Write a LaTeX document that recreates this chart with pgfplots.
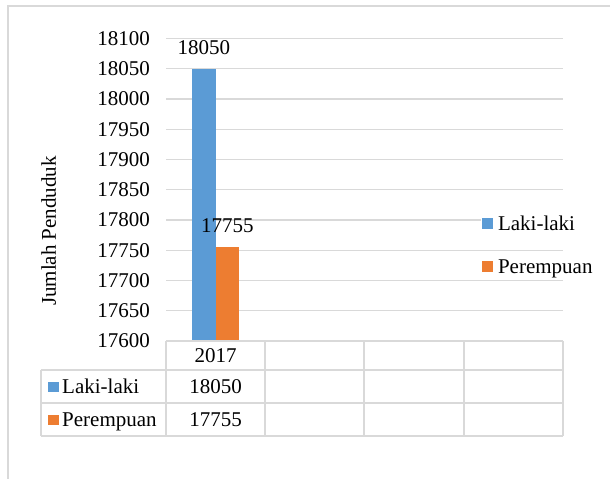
\documentclass[border=0pt]{standalone}
\usepackage{pgfplots}
\pgfplotsset{compat=1.18}
\usepackage{fontspec}
\setmainfont{Liberation Serif}
\definecolor{xblue}{HTML}{5B9BD5}
\definecolor{xorange}{HTML}{ED7D31}
\definecolor{gridgray}{HTML}{D9D9D9}
\newcommand{\cf}{\fontsize{21bp}{25bp}\selectfont}
\begin{document}
\begin{tikzpicture}
\useasboundingbox (0,0) rectangle (610bp,-479bp);
\begin{axis}[
  at={(166bp,-341bp)}, anchor=south west,
  width=397bp, height=302.5bp, scale only axis,
  xmin=0, xmax=4, ymin=17600, ymax=18100,
  ytick={17600,17650,...,18100},
  scaled y ticks=false,
  yticklabel={\pgfmathprintnumber[fixed,precision=0,1000 sep={}]{\tick}},
  xtick=\empty,
  ymajorgrids, grid style={draw=gridgray, line width=1.3bp},
  axis line style={draw=none},
  major tick length=0pt,
  /pgf/number format/assume math mode=true,
  /pgf/number format/1000 sep={},
  yticklabel style={font=\cf, anchor=east, xshift=-12.5bp},
  ybar=0pt, bar width=23.5bp,
  nodes near coords,
  every node near coord/.append style={font=\cf, yshift=11bp, /pgf/number format/1000 sep={}},
  legend style={at={(0.7935,0.317)}, anchor=west, draw=none, fill=none,
    inner sep=0pt, outer sep=0pt, row sep=27bp, font=\cf,
    nodes={inner sep=0pt, text height=13bp, text depth=0pt, fill=white},
    /tikz/every even column/.append style={column sep=3.5bp}},
  legend cell align=left,
  legend image code/.code={\fill[white] (-1bp,-8bp) rectangle (16bp,8bp); \fill[#1,draw=none] (0bp,-5.5bp) rectangle (11bp,5.5bp);},
]
\addplot[fill=xblue, draw=none] coordinates {(0.5,18050)};
\addplot[fill=xorange, draw=none] coordinates {(0.5,17755)};
\legend{Laki-laki, Perempuan}
\end{axis}
% outer frame
\draw[gridgray, line width=2bp] (8bp,-479bp) -- (8bp,-6bp) -- (610bp,-6bp);
% y label
\node[rotate=90, font=\cf] at (48.6bp,-231bp) {Jumlah Penduduk};
% data table
\begin{scope}[gridgray, line width=1.5bp]
\draw (166bp,-341bp) -- (563bp,-341bp);
\draw (41bp,-370bp) -- (563bp,-370bp);
\draw (41bp,-403bp) -- (563bp,-403bp);
\draw (41bp,-436bp) -- (563bp,-436bp);
\foreach \x in {166,265,364,464,563} {\draw (\x bp,-341bp) -- (\x bp,-436bp);}
\draw (41bp,-370bp) -- (41bp,-436bp);
\end{scope}
\node[font=\cf] at (215.5bp,-356bp) {2017};
\node[font=\cf] at (215.5bp,-387bp) {18050};
\node[font=\cf] at (215.5bp,-420bp) {17755};
\fill[xblue] (48bp,-381.5bp) rectangle (58.5bp,-391.5bp);
\fill[xorange] (48bp,-414.5bp) rectangle (58.5bp,-425bp);
\node[font=\cf, anchor=base west, inner sep=0pt] at (62bp,-393bp) {Laki-laki};
\node[font=\cf, anchor=base west, inner sep=0pt] at (62bp,-426bp) {Perempuan};
\end{tikzpicture}
\end{document}
